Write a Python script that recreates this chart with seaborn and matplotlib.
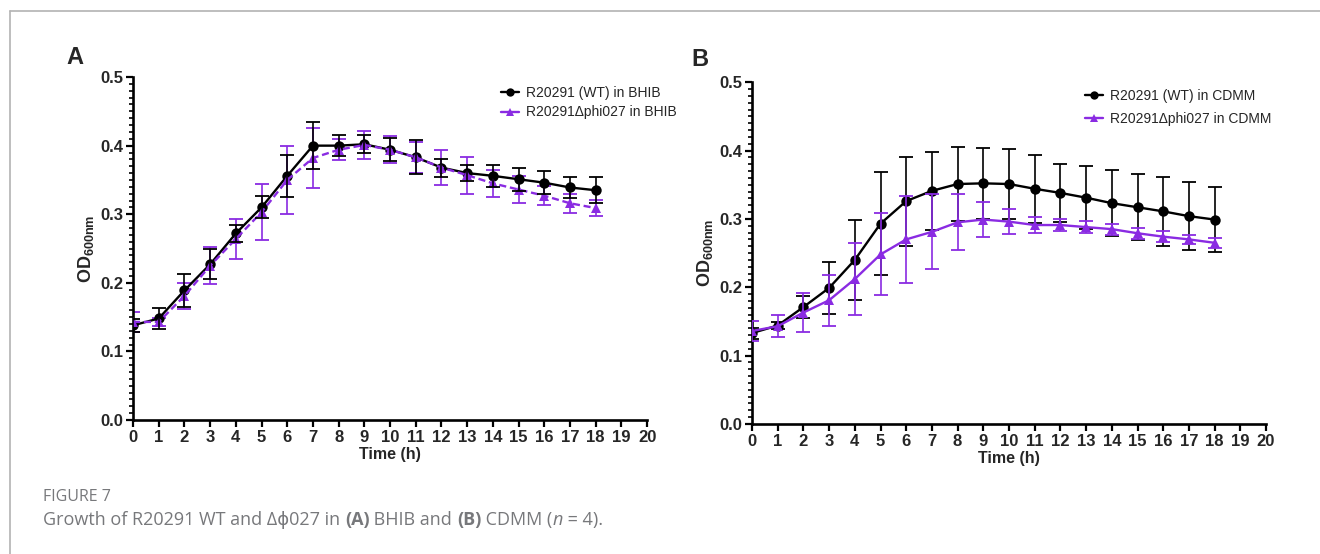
import matplotlib
matplotlib.use('Agg')
import matplotlib.pyplot as plt
import pandas as pd
import seaborn as sns
from matplotlib.lines import Line2D
from matplotlib.ticker import MultipleLocator

# Data (mean OD600 and SD, n = 4)
time_h = list(range(19))

bhib_wt = [0.138, 0.148, 0.189, 0.227, 0.272, 0.310, 0.356, 0.400, 0.400, 0.402,
           0.394, 0.383, 0.368, 0.360, 0.356, 0.351, 0.346, 0.339, 0.335]
bhib_wt_sd = [0.009, 0.016, 0.024, 0.022, 0.012, 0.016, 0.031, 0.034, 0.015, 0.013,
              0.017, 0.025, 0.013, 0.012, 0.016, 0.017, 0.017, 0.016, 0.019]
bhib_mut = [0.143, 0.143, 0.181, 0.225, 0.264, 0.303, 0.350, 0.382, 0.394, 0.401,
            0.394, 0.383, 0.368, 0.357, 0.345, 0.336, 0.327, 0.316, 0.309]
bhib_mut_sd = [0.014, 0.006, 0.019, 0.027, 0.029, 0.041, 0.050, 0.044, 0.015, 0.020,
               0.020, 0.023, 0.025, 0.027, 0.020, 0.020, 0.014, 0.014, 0.012]

cdmm_wt = [0.133, 0.144, 0.171, 0.199, 0.240, 0.293, 0.326, 0.341, 0.351, 0.352,
           0.351, 0.344, 0.338, 0.331, 0.323, 0.317, 0.311, 0.304, 0.299]
cdmm_wt_sd = [0.008, 0.005, 0.016, 0.038, 0.059, 0.075, 0.065, 0.057, 0.054, 0.052,
              0.051, 0.050, 0.043, 0.046, 0.048, 0.048, 0.050, 0.050, 0.047]
cdmm_mut = [0.136, 0.143, 0.163, 0.181, 0.212, 0.248, 0.270, 0.281, 0.295, 0.299,
            0.296, 0.291, 0.291, 0.288, 0.285, 0.279, 0.274, 0.270, 0.265]
cdmm_mut_sd = [0.015, 0.016, 0.028, 0.037, 0.053, 0.060, 0.064, 0.055, 0.041, 0.026,
               0.018, 0.012, 0.009, 0.009, 0.008, 0.008, 0.008, 0.007, 0.007]

x_ticks = list(range(21))
y_ticks = [0.0, 0.1, 0.2, 0.3, 0.4, 0.5]

BLACK = '#000000'
PURPLE = '#8a2be2'

sns.set_theme(style='ticks')
plt.rcParams['font.family'] = ['Liberation Sans', 'DejaVu Sans']
plt.rcParams['mathtext.fontset'] = 'custom'
plt.rcParams['mathtext.bf'] = 'Liberation Sans:bold'
plt.rcParams['mathtext.rm'] = 'Liberation Sans'

fig = plt.figure(figsize=(13.2, 5.54), dpi=100)
ax_a = fig.add_axes([0.1008, 0.2419, 0.3894, 0.619])
ax_b = fig.add_axes([0.5697, 0.2347, 0.3894, 0.617])


def draw_panel(ax, wt, wt_sd, mut, mut_sd, medium, mut_dashed, wt_on_top, leg_anchor, leg_spacing):
    wt_name = f'R20291 (WT) in {medium}'
    mut_name = f'R20291\u0394phi027 in {medium}'
    df = pd.DataFrame({
        'time': time_h * 2,
        'od': wt + mut,
        'strain': [wt_name] * len(time_h) + [mut_name] * len(time_h),
    })

    def bars(vals, sd, color, z):
        ax.errorbar(time_h, vals, yerr=sd, fmt='none', ecolor=color,
                    elinewidth=1.2, capsize=5, capthick=1.3, zorder=z)

    if wt_on_top:
        bars(mut, mut_sd, PURPLE, 2)
        bars(wt, wt_sd, BLACK, 4)
    else:
        bars(wt, wt_sd, BLACK, 2)
        bars(mut, mut_sd, PURPLE, 4)

    sns.lineplot(data=df, x='time', y='od', hue='strain', style='strain',
                 palette={wt_name: BLACK, mut_name: PURPLE},
                 markers={wt_name: 'o', mut_name: '^'},
                 dashes={wt_name: '', mut_name: (3, 1.6) if mut_dashed else ''},
                 markersize=7.5, markeredgewidth=0, linewidth=1.7, ax=ax, zorder=3)

    ax.set_xlim(0, 20)
    ax.set_ylim(0, 0.5)
    ax.set_xticks(x_ticks)
    ax.set_xticklabels([str(t) for t in x_ticks])
    ax.set_yticks(y_ticks)
    ax.set_yticklabels([f'{v:.1f}' for v in y_ticks])
    ax.yaxis.set_minor_locator(MultipleLocator(0.01))
    for lab in ax.get_xticklabels() + ax.get_yticklabels():
        lab.set_fontweight('bold')
        lab.set_fontsize(12)
    ax.tick_params(axis='both', which='major', length=5, width=1.6, pad=2, color='black')
    ax.tick_params(axis='y', which='minor', length=3, width=1.2, color='black')
    ax.tick_params(axis='x', which='minor', length=0)
    sns.despine(ax=ax)
    for side in ['left', 'bottom']:
        ax.spines[side].set_linewidth(1.9)
        ax.spines[side].set_color('black')
    ax.set_xlabel('Time (h)', fontsize=11.5, fontweight='bold', labelpad=2)
    ax.set_ylabel(r'$\mathbf{OD_{600nm}}$', fontsize=13, labelpad=3)

    handles, labels = ax.get_legend_handles_labels()
    ax.legend(handles=handles, labels=labels, loc='upper left', bbox_to_anchor=leg_anchor,
              frameon=False, fontsize=10, handlelength=1.3, handletextpad=0.5,
              labelspacing=leg_spacing, borderpad=0, borderaxespad=0)
    for h in ax.get_legend().legend_handles:
        h.set_markersize(6)
        h.set_linestyle('-')


draw_panel(ax_a, bhib_wt, bhib_wt_sd, bhib_mut, bhib_mut_sd, 'BHIB', True, True,
           (0.715, 0.975), 0.42)
draw_panel(ax_b, cdmm_wt, cdmm_wt_sd, cdmm_mut, cdmm_mut_sd, 'CDMM', False, False,
           (0.648, 0.98), 0.62)

# Panel letters
fig.text(75 / 1320, 1 - 57 / 554, 'A', fontsize=17, fontweight='bold', ha='center', va='center')
fig.text(700 / 1320, 1 - 59 / 554, 'B', fontsize=17, fontweight='bold', ha='center', va='center')

# Page frame lines
grey = '#b3b3b3'
fig.add_artist(Line2D([10 / 1320, 1], [1 - 11 / 554, 1 - 11 / 554], transform=fig.transFigure,
                      color=grey, linewidth=1.2))
fig.add_artist(Line2D([10 / 1320, 10 / 1320], [0, 1 - 11 / 554], transform=fig.transFigure,
                      color=grey, linewidth=1.2))

# Caption
cap_color = '#77787b'
cap_font = ['Open Sans', 'DejaVu Sans']
fig.text(43 / 1320, 1 - 497 / 554, 'FIGURE 7', fontsize=11.5, color=cap_color,
         family=cap_font, va='center', ha='left')

pieces = [
    ('Growth of R20291 WT and \u0394\u03d5027 in ', 'normal', 'normal'),
    ('(A)', 'bold', 'normal'),
    (' BHIB and ', 'normal', 'normal'),
    ('(B)', 'bold', 'normal'),
    (' CDMM (', 'normal', 'normal'),
    ('n', 'normal', 'italic'),
    (' = 4).', 'normal', 'normal'),
]
renderer = fig.canvas.get_renderer()
x_px = 43.0
for txt, weight, style in pieces:
    t = fig.text(x_px / 1320, 1 - 520 / 554, txt, fontsize=13, color=cap_color,
                 family=cap_font, fontweight=weight, fontstyle=style, va='center', ha='left')
    bb = t.get_window_extent(renderer=renderer)
    x_px += bb.width

fig.savefig('out.png', dpi=100)
